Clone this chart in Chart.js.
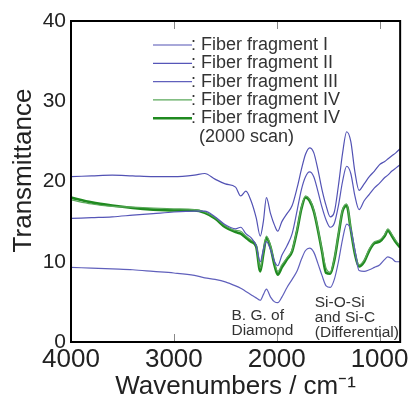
<!DOCTYPE html>
<html>
<head>
<meta charset="utf-8">
<script src="https://cdn.jsdelivr.net/npm/chart.js@4/dist/chart.umd.min.js"></script>
<style>
  body { margin: 0; background: #fff; }
  #wrap { width: 411px; height: 403px; }
</style>
</head>
<body>
<div id="wrap"><canvas id="myCanvas" width="411" height="403"></canvas></div>
<script>
// wavenumber grid (cm-1), shared by every spectrum
const wavenumbers = [4000, 3800, 3600, 3400, 3200, 3000, 2800, 2700, 2600, 2500,
  2400, 2350, 2300, 2250, 2200, 2160, 2130, 2100, 2060, 2020, 1990, 1950, 1900, 1850, 1800,
  1760, 1720, 1680, 1640, 1600, 1560, 1520, 1480, 1440, 1400, 1360, 1320, 1280, 1240, 1200,
  1150, 1100, 1050, 1000, 950, 920, 880, 840, 800];

const fragment1 = [20.6, 20.7, 20.8, 20.7, 20.6, 20.6, 20.8, 21.0, 20.3, 19.7,
  19.3, 18.2, 18.8, 17.6, 15.5, 13.2, 15.0, 18.0, 16.0, 14.5, 13.8, 15.0, 16.0, 17.0, 19.3,
  21.5, 23.4, 24.2, 23.6, 21.5, 19.0, 17.0, 15.6, 16.2, 19.5, 23.5, 26.2, 25.0, 21.2, 18.9,
  19.7, 20.6, 21.3, 22.1, 22.5, 22.8, 23.2, 23.6, 24.1];

const fragment2 = [15.4, 15.5, 15.6, 15.8, 16.0, 16.2, 16.3, 16.3, 15.6, 14.6,
  14.1, 14.3, 13.5, 13.0, 12.0, 10.0, 11.5, 12.5, 11.5, 10.0, 9.5, 10.8, 12.0, 13.5, 16.5,
  19.0, 20.6, 21.2, 20.6, 18.8, 16.8, 15.2, 14.3, 14.8, 17.0, 20.0, 21.9, 21.0, 18.2, 16.5,
  17.6, 18.4, 19.2, 19.8, 20.5, 20.8, 21.3, 21.7, 22.1];

const fragment3 = [9.3, 9.2, 9.1, 9.0, 8.8, 8.6, 8.3, 8.0, 7.8, 7.5,
  7.0, 6.7, 6.3, 5.9, 5.5, 5.2, 5.9, 6.6, 5.6, 5.0, 4.9, 5.6, 6.8, 7.8, 8.9,
  10.3, 11.4, 11.7, 11.2, 9.8, 8.3, 7.0, 6.8, 7.8, 10.0, 12.8, 14.7, 14.0, 11.5, 8.9,
  8.8, 9.0, 9.3, 9.6, 10.3, 10.6, 10.4, 10.0, 10.0];

const fragment4 = [17.7, 17.2, 16.9, 16.8, 16.7, 16.6, 16.5, 16.2, 15.5, 14.5,
  13.9, 13.8, 13.2, 12.7, 12.1, 9.2, 11.3, 13.2, 12.0, 9.8, 8.8, 9.6, 10.5, 11.5, 14.2,
  16.8, 18.2, 17.8, 16.5, 14.2, 11.5, 9.2, 8.7, 10.4, 13.5, 16.5, 17.2, 14.2, 11.2, 9.6,
  10.2, 11.6, 12.5, 12.7, 13.4, 14.1, 13.4, 12.6, 12.0];

const fragment4Scan2000 = [18.0, 17.4, 17.0, 16.7, 16.5, 16.4, 16.4, 16.1, 15.4, 14.3,
  13.7, 13.5, 13.0, 12.5, 11.9, 8.8, 11.0, 13.0, 11.8, 9.5, 8.4, 9.3, 10.3, 11.3, 14.0,
  16.6, 18.0, 17.6, 16.3, 14.0, 11.3, 8.6, 8.5, 10.2, 13.3, 16.3, 17.0, 14.0, 11.0, 9.4,
  10.0, 11.4, 12.3, 12.5, 13.2, 13.9, 13.2, 12.4, 11.8];

const xTicks = [4000, 3000, 2000, 1000];
const yTicks = [0, 10, 20, 30, 40];

const seriesNames = [': Fiber fragment I', ': Fiber fragment II', ': Fiber fragment III',
  ': Fiber fragment IV', ': Fiber fragment IV'];

// text notes placed in data coordinates (wavenumber, transmittance)
const notes = [
  { lines: ['B. G. of', 'Diamond'], wn: 2440, t: 3.25, step: 15 },
  { lines: ['Si-O-Si', 'and Si-C', '(Differential)'], wn: 1630, t: 4.85, step: 15 }
];

const FONT = '"Liberation Sans", Arial, sans-serif';

function toPoints(values) {
  return values.map((v, i) => ({ x: wavenumbers[i], y: v }));
}

function lineSet(label, values, color, width) {
  return {
    label: label,
    data: toPoints(values),
    borderColor: color,
    borderWidth: width,
    pointRadius: 0,
    fill: false,
    cubicInterpolationMode: 'monotone'
  };
}

const framePlugin = {
  id: 'frame',
  afterDatasetsDraw(chart) {
    const ctx = chart.ctx;
    const a = chart.chartArea;
    const xs = chart.scales.x;
    ctx.save();
    // tick marks on top and bottom edges
    ctx.strokeStyle = '#888';
    ctx.lineWidth = 1;
    xTicks.forEach(v => {
      const px = Math.round(xs.getPixelForValue(v)) + 0.5;
      if (px < a.left + 3 || px > a.right - 3) return;
      ctx.beginPath();
      ctx.moveTo(px, a.top); ctx.lineTo(px, a.top + 8);
      ctx.moveTo(px, a.bottom); ctx.lineTo(px, a.bottom - 8);
      ctx.stroke();
    });
    ctx.strokeStyle = '#000';
    ctx.lineWidth = 2;
    ctx.strokeRect(a.left, a.top, a.right - a.left, a.bottom - a.top);

    // legend inside the plot
    const lx = a.left + 82, ly = a.top + 24, row = 18.3;
    ctx.font = '18px ' + FONT;
    ctx.textBaseline = 'middle';
    ctx.fillStyle = '#333';
    chart.data.datasets.forEach((ds, i) => {
      const y = ly + i * row;
      ctx.strokeStyle = ds.borderColor;
      ctx.lineWidth = ds.borderWidth;
      ctx.beginPath();
      ctx.moveTo(lx, y); ctx.lineTo(lx + 39, y);
      ctx.stroke();
      ctx.fillText(seriesNames[i], lx + 38, y);
    });
    ctx.fillText('(2000 scan)', lx + 46, ly + 5 * row + 1);

    // notes
    const ys = chart.scales.y;
    ctx.font = '15.5px ' + FONT;
    ctx.fillStyle = '#333';
    notes.forEach(n => {
      const x0 = xs.getPixelForValue(n.wn);
      const y0 = ys.getPixelForValue(n.t);
      n.lines.forEach((s, k) => ctx.fillText(s, x0, y0 + k * n.step));
    });

    // y axis title, a little above the plot centre as in the original
    ctx.font = '26px ' + FONT;
    ctx.fillStyle = '#222';
    ctx.textAlign = 'center';
    ctx.translate(24, (a.top + a.bottom) / 2 - 11);
    ctx.rotate(-Math.PI / 2);
    ctx.fillText('Transmittance', 0, 0);
    ctx.restore();
  }
};

const ctx = document.getElementById('myCanvas').getContext('2d');
const myChart = new Chart(ctx, {
  type: 'line',
  data: {
    datasets: [
      lineSet('Fiber fragment I', fragment1, '#5252b4', 1.2),
      lineSet('Fiber fragment II', fragment2, '#5656b8', 1.2),
      lineSet('Fiber fragment III', fragment3, '#6060bc', 1.2),
      lineSet('Fiber fragment IV', fragment4, '#5aa85a', 1.2),
      lineSet('Fiber fragment IV (2000 scan)', fragment4Scan2000, '#1f8a1f', 2.6)
    ]
  },
  options: {
    responsive: false,
    animation: false,
    layout: { padding: { top: 21, right: 8, left: 0, bottom: 0 } },
    plugins: { legend: { display: false }, tooltip: { enabled: false } },
    scales: {
      x: {
        type: 'linear',
        reverse: true,
        min: 800,
        max: 4000,
        afterBuildTicks: s => { s.ticks = xTicks.map(v => ({ value: v })); },
        afterFit: s => { s.height = 61; },
        grid: { display: false, drawTicks: false },
        border: { display: false },
        ticks: {
          font: { family: FONT, size: 26 },
          color: '#222',
          padding: 2,
          maxRotation: 0,
          callback: v => String(v)
        },
        title: {
          display: true,
          text: 'Wavenumbers / cm\u207B\u00B9',
          font: { family: FONT, size: 26 },
          color: '#222',
          padding: { top: 0, bottom: 1 }
        }
      },
      y: {
        min: 0,
        max: 40,
        afterBuildTicks: s => { s.ticks = yTicks.map(v => ({ value: v })); },
        afterFit: s => { s.width = 71; },
        grid: { display: false, drawTicks: false },
        border: { display: false },
        ticks: { font: { family: FONT, size: 21 }, color: '#222', padding: 5, callback: v => String(v) },
        title: { display: false }
      }
    }
  },
  plugins: [framePlugin]
});
</script>
</body>
</html>
